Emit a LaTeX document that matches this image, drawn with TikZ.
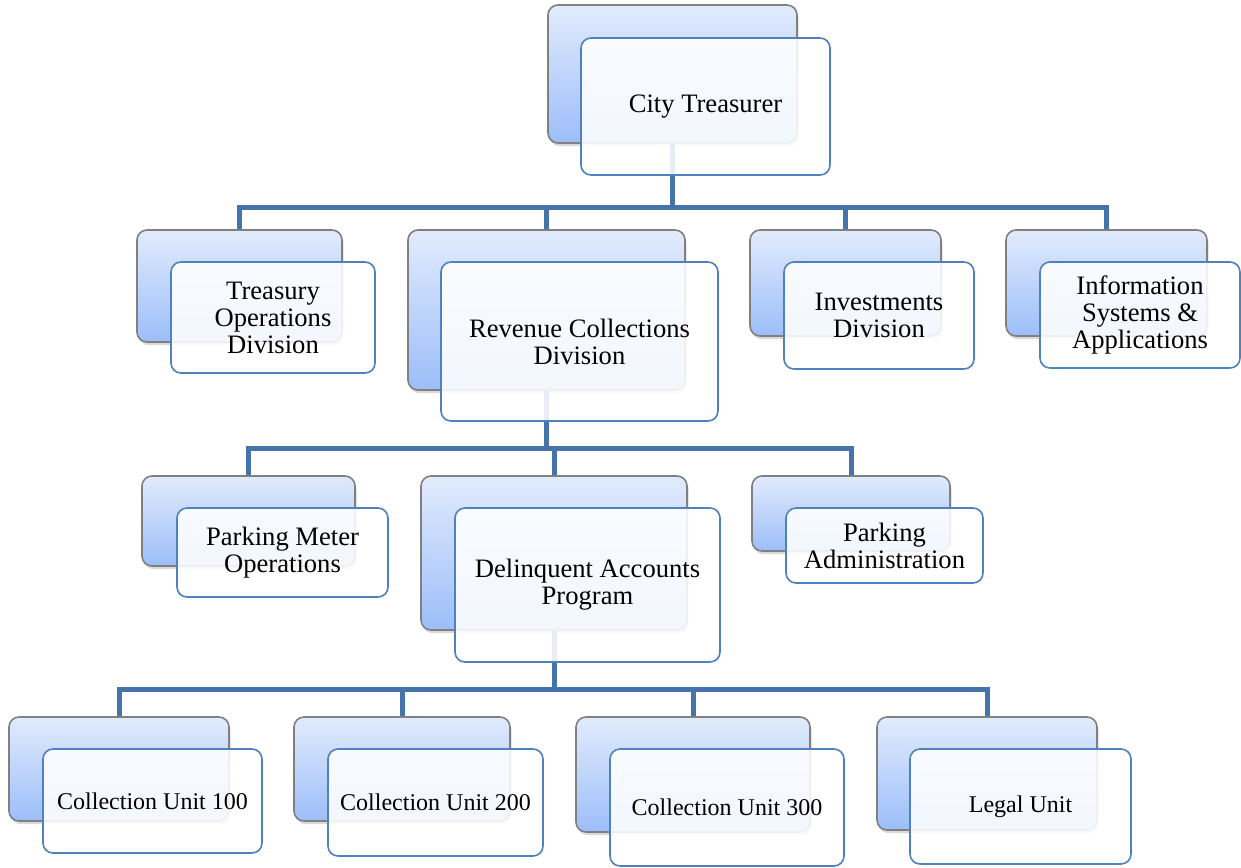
\documentclass[tikz,border=0pt]{standalone}
\usepackage{fontspec}
\setmainfont{Liberation Serif}
\usetikzlibrary{shadows}
\definecolor{barblue}{RGB}{70,115,170}
\definecolor{boxblue}{RGB}{79,129,189}
\definecolor{boxgray}{RGB}{128,128,128}
\definecolor{shadetop}{RGB}{226,235,252}
\definecolor{shadebot}{RGB}{156,190,250}
\begin{document}
\begin{tikzpicture}[x=0.5pt,y=-0.5pt,
	boxsize/.style 2 args={minimum width=#1*0.5pt,minimum height=#2*0.5pt},
	back/.style={draw=boxgray,line width=0.8pt,rounded corners=5pt,inner sep=0pt,
		top color=shadetop,bottom color=shadebot,
		drop shadow={shadow xshift=0.8pt,shadow yshift=-1.6pt,opacity=0.3}},
	front/.style={draw=boxblue,line width=0.8pt,rounded corners=5pt,inner sep=0pt,
		fill=white,fill opacity=0.88,text opacity=1,align=center,
		font=\fontsize{13.3}{13.5}\selectfont},
	small/.style={font=\fontsize{12}{13.5}\selectfont},
	bar/.style={draw=barblue,line width=2.5pt}]
	\useasboundingbox (0,0) rectangle (1241,867);
	% hàng của các đường nối
	\coordinate (bus1) at (0,207);
	\coordinate (bus2) at (0,448);
	\coordinate (bus3) at (0,689);
	% các hộp phía sau
	\node[back,boxsize={249}{138}] (ctB) at (672.5,74) {};
	\node[back,boxsize={205}{112}] (toB) at (239.5,286) {};
	\node[back,boxsize={277}{160}] (rcB) at (546.5,310) {};
	\node[back,boxsize={191}{106}] (inB) at (845.5,283) {};
	\node[back,boxsize={201}{106}] (isB) at (1106.5,283) {};
	\node[back,boxsize={213}{90}] (pmB) at (248.5,521) {};
	\node[back,boxsize={266}{154}] (daB) at (554,553) {};
	\node[back,boxsize={198}{75}] (paB) at (851,513.5) {};
	\node[back,boxsize={220}{104}] (cuaB) at (119,769) {};
	\node[back,boxsize={216}{104}] (cubB) at (402,769) {};
	\node[back,boxsize={234}{115}] (cucB) at (693,774.5) {};
	\node[back,boxsize={220}{113}] (luB) at (987,773.5) {};
	% đường nối
	\draw[bar] (ctB.south) -- (ctB.south |- bus1);
	\draw[bar] (toB.north) -- (toB.north |- bus1) -| (isB.north);
	\draw[bar] (rcB.north) -- (rcB.north |- bus1);
	\draw[bar] (inB.north) -- (inB.north |- bus1);
	\draw[bar] (rcB.south) -- (rcB.south |- bus2);
	\draw[bar] (pmB.north) -- (pmB.north |- bus2) -| (paB.north);
	\draw[bar] (daB.north) -- (daB.north |- bus2);
	\draw[bar] (daB.south) -- (daB.south |- bus3);
	\draw[bar] (cuaB.north) -- (cuaB.north |- bus3) -| (luB.north);
	\draw[bar] (cubB.north) -- (cubB.north |- bus3);
	\draw[bar] (cucB.north) -- (cucB.north |- bus3);
	% các hộp phía trước
	\node[front,boxsize={249}{137}] (ct) at (705.5,106.5) {City Treasurer};
	\node[front,boxsize={204}{111}] (to) at (273,317.5) {Treasury\\Operations\\Division};
	\node[front,boxsize={277}{159}] (rc) at (579.5,341.5) {Revenue Collections\\Division};
	\node[front,boxsize={190}{107}] (in) at (879,315.5) {Investments\\Division};
	\node[front,boxsize={200}{106}] (is) at (1140,315) {Information\\Systems \&\\Applications};
	\node[front,boxsize={211}{89}] (pm) at (282.5,552.5) {Parking Meter\\Operations};
	\node[front,boxsize={265}{154}] (da) at (587.5,585) {Delinquent Accounts\\Program};
	\node[front,boxsize={197}{75}] (pa) at (884.5,545.5) {Parking\\Administration};
	\node[front,small,boxsize={219}{104}] (cua) at (152.5,801) {Collection Unit 100};
	\node[front,small,boxsize={215}{107}] (cub) at (435.5,802.5) {Collection Unit 200};
	\node[front,small,boxsize={234}{117}] (cuc) at (727,807.5) {Collection Unit 300};
	\node[front,small,boxsize={221}{115}] (lu) at (1020.5,806.5) {Legal Unit};
\end{tikzpicture}
\end{document}
